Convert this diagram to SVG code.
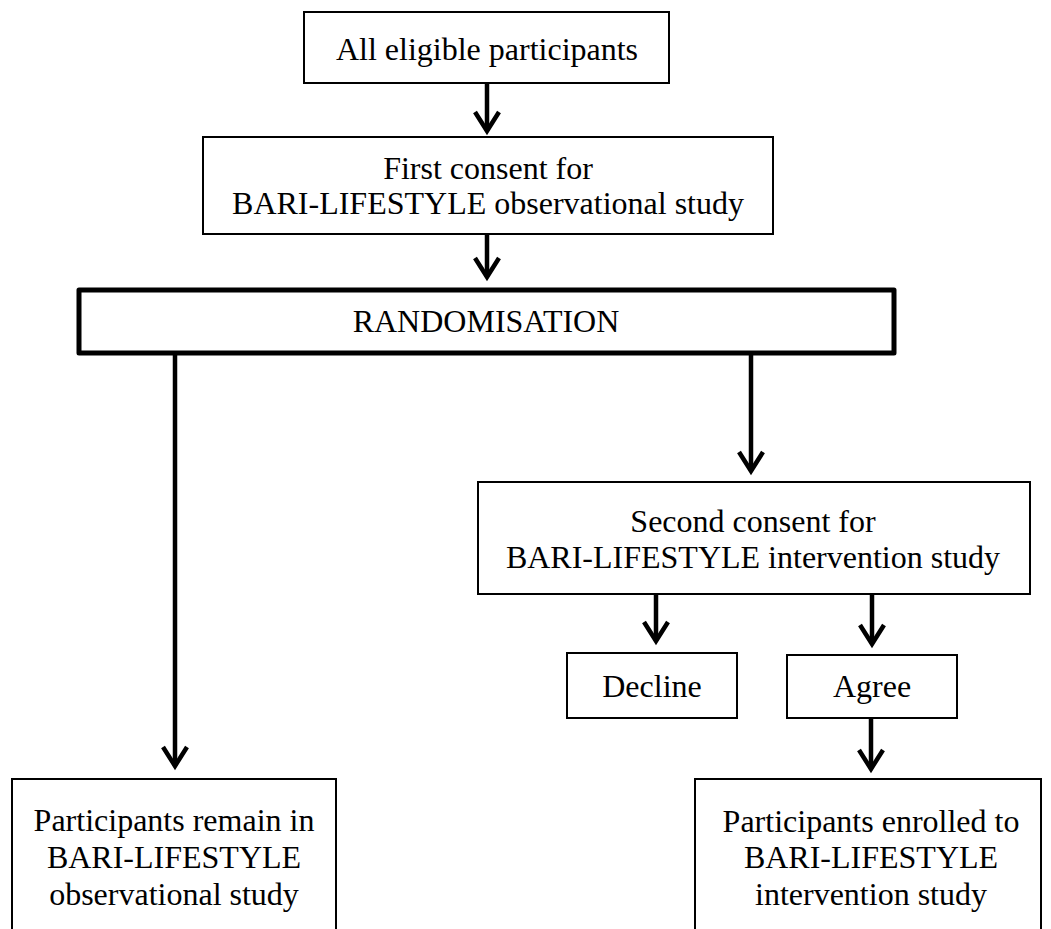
<svg xmlns="http://www.w3.org/2000/svg" width="1051" height="929" viewBox="0 0 1051 929">
<defs>
<style>
.box{fill:#fff;stroke:#000;stroke-width:2}
.thick{fill:#fff;stroke:#000;stroke-width:5;stroke-linejoin:round}
.t{font-family:"Liberation Serif","Times New Roman",serif;font-size:32px;fill:#000;text-anchor:middle}
.c{stroke:#000;stroke-width:4.5;fill:none}
</style>
<marker id="arr" markerUnits="userSpaceOnUse" viewBox="-26 -16 34 32" markerWidth="34" markerHeight="32" refX="0" refY="0" orient="auto">
<path d="M -19,-12 L 0,0 L -19,12" fill="none" stroke="#000" stroke-width="4.5" stroke-linejoin="miter"/>
</marker>
</defs>
<rect width="1051" height="929" fill="#fff"/>
<g id="connectors">
<line class="c" x1="487" y1="83" x2="487" y2="131" marker-end="url(#arr)"/>
<line class="c" x1="487" y1="234" x2="487" y2="277" marker-end="url(#arr)"/>
<line class="c" x1="175" y1="353" x2="175" y2="766" marker-end="url(#arr)"/>
<line class="c" x1="751" y1="353" x2="751" y2="471" marker-end="url(#arr)"/>
<line class="c" x1="656" y1="594" x2="656" y2="641" marker-end="url(#arr)"/>
<line class="c" x1="872" y1="594" x2="872" y2="644" marker-end="url(#arr)"/>
<line class="c" x1="871" y1="718" x2="871" y2="769" marker-end="url(#arr)"/>
</g>
<g id="n-all">
<rect class="box" x="304" y="12" width="365" height="71"/>
<text class="t" x="487" y="60">All eligible participants</text>
</g>
<g id="n-first">
<rect class="box" x="203" y="137" width="570" height="97"/>
<text class="t" x="488" y="179">First consent for</text>
<text class="t" x="488" y="214">BARI-LIFESTYLE observational study</text>
</g>
<g id="n-rand">
<rect class="thick" x="79" y="290" width="815" height="63"/>
<text class="t" x="486" y="332">RANDOMISATION</text>
</g>
<g id="n-second">
<rect class="box" x="478" y="482" width="552" height="112"/>
<text class="t" x="753" y="532">Second consent for</text>
<text class="t" x="753" y="568">BARI-LIFESTYLE intervention study</text>
</g>
<g id="n-decline">
<rect class="box" x="567" y="653" width="170" height="65"/>
<text class="t" x="652" y="697">Decline</text>
</g>
<g id="n-agree">
<rect class="box" x="787" y="655" width="170" height="63"/>
<text class="t" x="872" y="697">Agree</text>
</g>
<g id="n-observ">
<rect class="box" x="12" y="779" width="324" height="200"/>
<text class="t" x="174" y="831">Participants remain in</text>
<text class="t" x="174" y="868">BARI-LIFESTYLE</text>
<text class="t" x="174" y="905">observational study</text>
</g>
<g id="n-interv">
<rect class="box" x="695" y="779" width="346" height="200"/>
<text class="t" x="871" y="832">Participants enrolled to</text>
<text class="t" x="871" y="868">BARI-LIFESTYLE</text>
<text class="t" x="871" y="905">intervention study</text>
</g>
</svg>
